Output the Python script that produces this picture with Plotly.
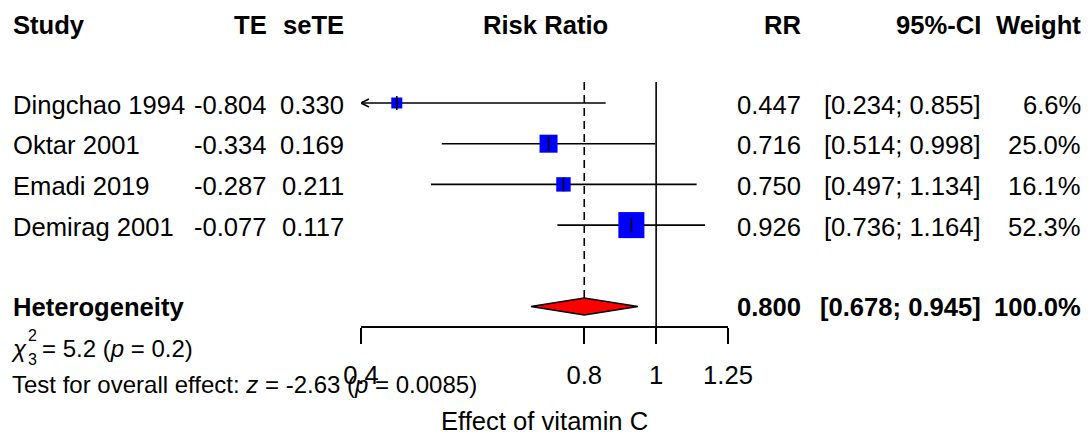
import math
import plotly.graph_objects as go

# ---- data ----
studies = ["Dingchao 1994", "Oktar 2001", "Emadi 2019", "Demirag 2001"]
te = [-0.804, -0.334, -0.287, -0.077]
sete = [0.330, 0.169, 0.211, 0.117]
rr = [0.447, 0.716, 0.750, 0.926]
ci_lower = [0.234, 0.514, 0.497, 0.736]
ci_upper = [0.855, 0.998, 1.134, 1.164]
weights = [6.6, 25.0, 16.1, 52.3]
pooled_rr = 0.800
pooled_lower = 0.678
pooled_upper = 0.945
tick_values = [0.4, 0.8, 1, 1.25]
tick_labels = ["0.4", "0.8", "1", "1.25"]
x_title = "Effect of vitamin C"

# ---- layout geometry (in screen pixels of the 1090x437 view) ----
W, H = 1090, 437
OFF = 8                     # page body margin
ROW0, ROWH = 103, 40.7      # pixel of first study row, pixels per row
X0PX, X1PX = 361, 728       # pixel extent of the effect axis
XMIN, XMAX = 0.4, 1.25
AXIS_Y = 327
FONT = "Liberation Sans, Arial, sans-serif"
FS = 25.6


def ky(p):
    return (p - ROW0) / ROWH


def px(p):
    return (p - OFF) / W


px_per_dec = (X1PX - X0PX) / (math.log10(XMAX) - math.log10(XMIN))

fig = go.Figure()

rows = list(range(len(studies)))
sum_row = len(studies) + 1

# confidence interval lines (clipped at axis limit)
lx, ly = [], []
for i in rows:
    lx += [max(ci_lower[i], XMIN), min(ci_upper[i], XMAX), None]
    ly += [i, i, None]
# arrows for clipped intervals
for i in rows:
    if ci_lower[i] < XMIN:
        ax = XMIN * 10 ** (8 / px_per_dec)
        dy = 4 / ROWH
        lx += [ax, XMIN, ax, None]
        ly += [i - dy, i, i + dy, None]
fig.add_trace(go.Scatter(x=lx, y=ly, mode="lines",
                         line=dict(color="black", width=1.6),
                         hoverinfo="skip", cliponaxis=False))

# reference lines
fig.add_trace(go.Scatter(x=[1, 1], y=[ky(82), ky(AXIS_Y)], mode="lines",
                         line=dict(color="black", width=1.6),
                         hoverinfo="skip", cliponaxis=False))
fig.add_trace(go.Scatter(x=[pooled_rr, pooled_rr], y=[ky(82), ky(298)], mode="lines",
                         line=dict(color="black", width=1.6, dash="8px,5px"),
                         hoverinfo="skip", cliponaxis=False))

# squares
sizes = [max(11, 3.6 * math.sqrt(w)) for w in weights]
fig.add_trace(go.Scatter(x=rr, y=rows, mode="markers",
                         marker=dict(symbol="square", color="#0000FF", size=sizes,
                                     opacity=1, line=dict(width=0)),
                         hoverinfo="skip", cliponaxis=False))
fig.add_trace(go.Scatter(x=rr, y=rows, mode="markers",
                         marker=dict(symbol="line-ns", size=10, opacity=1,
                                     line=dict(color="black", width=1.6)),
                         hoverinfo="skip", cliponaxis=False))

# diamond
h = 8.5 / ROWH
fig.add_trace(go.Scatter(x=[pooled_lower, pooled_rr, pooled_upper, pooled_rr, pooled_lower],
                         y=[sum_row, sum_row - h, sum_row, sum_row + h, sum_row],
                         mode="lines", fill="toself", fillcolor="#FF0000",
                         line=dict(color="black", width=1.3),
                         hoverinfo="skip", cliponaxis=False))

ann = []


def text(x, y, s, anchor="left", size=FS):
    ann.append(dict(x=px(x), y=y, xref="paper", yref="y", text=s, showarrow=False,
                    xanchor=anchor, yanchor="middle",
                    font=dict(family=FONT, size=size, color="black")))


# header
hy = ky(25)
text(11, hy, "<b>Study</b>")
text(269, hy, "<b>TE</b>", "right")
text(346, hy, "<b>seTE</b>", "right")
text(545, hy, "<b>Risk Ratio</b>", "center")
text(803, hy, "<b>RR</b>", "right")
text(983, hy, "<b>95%-CI</b>", "right")
text(1083, hy, "<b>Weight</b>", "right")

# study rows
dy_text = ky(ROW0 + 1.5)
for i in rows:
    text(11, dy_text + i, studies[i])
    text(269, dy_text + i, f"{te[i]:.3f}", "right")
    text(346, dy_text + i, f"{sete[i]:.3f}", "right")
    text(803, dy_text + i, f"{rr[i]:.3f}", "right")
    text(983, dy_text + i, f"[{ci_lower[i]:.3f}; {ci_upper[i]:.3f}]", "right")
    text(1083, dy_text + i, f"{weights[i]:.1f}%", "right")

# summary row
text(11, sum_row, "<b>Heterogeneity</b>")
text(803, sum_row, f"<b>{pooled_rr:.3f}</b>", "right")
text(983, sum_row, f"<b>[{pooled_lower:.3f}; {pooled_upper:.3f}]</b>", "right")
text(1083, sum_row, f"<b>{sum(weights):.1f}%</b>", "right")

# heterogeneity statistics
text(9, ky(348), "<i>χ</i>", size=24)
text(26, ky(335), "2", size=16)
text(26, ky(359), "3", size=16)
text(40, ky(348), "= 5.2 (<i>p</i> = 0.2)", size=24)
text(10, ky(384), "Test for overall effect: <i>z</i> = -2.63 (<i>p</i> = 0.0085)", size=24)

# axis title
text((X0PX + X1PX) / 2, ky(421), x_title, "center")

fig.update_layout(
    width=W, height=H,
    margin=dict(l=0, r=0, t=0, b=0, autoexpand=False),
    paper_bgcolor="white", plot_bgcolor="white",
    showlegend=False,
    annotations=ann,
    xaxis=dict(type="log", range=[math.log10(XMIN), math.log10(XMAX)],
               domain=[(X0PX - OFF) / W, (X1PX - OFF) / W], anchor="free",
               position=1 - (AXIS_Y - OFF) / H, automargin=False,
               showline=True, linecolor="black", linewidth=1.6,
               ticks="outside", ticklen=16, tickwidth=1.6, tickcolor="black",
               tickvals=tick_values, ticktext=tick_labels,
               tickfont=dict(family=FONT, size=FS, color="black"),
               ticklabelstandoff=9,
               showgrid=False, zeroline=False, fixedrange=True),
    yaxis=dict(range=[ky(H + OFF), ky(OFF)], domain=[0, 1], visible=False,
               automargin=False,
               showgrid=False, zeroline=False, fixedrange=True),
)

fig.write_html("out.html")
